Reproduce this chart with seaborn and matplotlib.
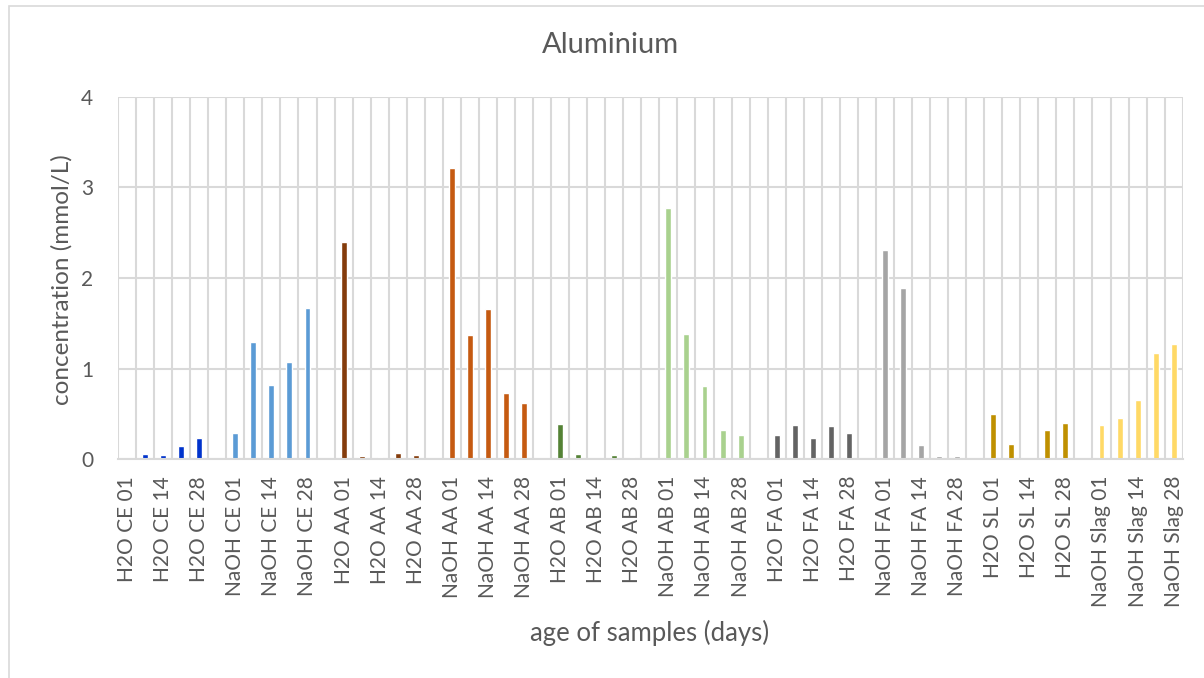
import matplotlib
matplotlib.use("Agg")
import matplotlib.pyplot as plt
from matplotlib.patches import Rectangle
from matplotlib.ticker import FixedLocator, NullFormatter
import numpy as np
import pandas as pd
import seaborn as sns

# Sample groups (binder / solution) and sampling ages in days
groups = ["H2O CE", "NaOH CE", "H2O AA", "NaOH AA", "H2O AB",
          "NaOH AB", "H2O FA", "NaOH FA", "H2O SL", "NaOH Slag"]
ages = ["01", "07", "14", "21", "28"]

# Aluminium concentration (mmol/L), one list per group, in age order
h2o_ce = [0.015, 0.059, 0.048, 0.147, 0.235]
naoh_ce = [0.29, 1.297, 0.823, 1.077, 1.665]
h2o_aa = [2.397, 0.036, 0.025, 0.069, 0.048]
naoh_aa = [3.213, 1.37, 1.658, 0.731, 0.621]
h2o_ab = [0.39, 0.059, 0.015, 0.048, 0.026]
naoh_ab = [2.772, 1.381, 0.809, 0.323, 0.268]
h2o_fa = [0.268, 0.379, 0.235, 0.368, 0.29]
naoh_fa = [2.31, 1.89, 0.158, 0.036, 0.036]
h2o_sl = [0.5, 0.17, 0.005, 0.323, 0.40]
naoh_slag = [0.379, 0.456, 0.654, 1.17, 1.27]

values = [h2o_ce, naoh_ce, h2o_aa, naoh_aa, h2o_ab,
          naoh_ab, h2o_fa, naoh_fa, h2o_sl, naoh_slag]

colors = ["#0033CC", "#5B9BD5", "#843C0C", "#C55A11", "#548235",
          "#A9D18E", "#636363", "#A5A5A5", "#BF9000", "#FFD966"]

# Long-form table
rows = []
for g, vals in zip(groups, values):
    for a, v in zip(ages, vals):
        rows.append({"sample": f"{g} {a}", "group": g, "conc": v})
df = pd.DataFrame(rows)

# Category order with one empty slot between groups
order = []
for i, g in enumerate(groups):
    order += [f"{g} {a}" for a in ages]
    if i < len(groups) - 1:
        order.append(" " * (i + 1))

text_color = "#595959"
grid_color = "#D9D9D9"

sns.set_theme(style="white")
plt.rcParams["font.family"] = ["Lato", "DejaVu Sans"]

fig = plt.figure(figsize=(12.04, 6.78), dpi=100)
ax = fig.add_axes([118 / 1204, 1 - 459.3 / 678, (1182.7 - 118) / 1204, (459.3 - 96.7) / 678])

sns.barplot(data=df, x="sample", y="conc", hue="group", order=order,
            hue_order=groups, palette=dict(zip(groups, colors)),
            dodge=False, width=0.33, saturation=1, legend=False, ax=ax)

n = len(order)
ax.set_xlim(-0.5, n - 0.5)
ax.set_ylim(0, 4)
ax.set_yticks([0, 1, 2, 3, 4])

# Gridlines: horizontal at major y ticks, vertical at category boundaries
ax.xaxis.set_minor_locator(FixedLocator(np.arange(-0.5, n, 1.0)))
ax.xaxis.set_minor_formatter(NullFormatter())
ax.grid(False)
ax.grid(True, axis="y", which="major", color=grid_color, linewidth=1.5)
ax.grid(True, axis="x", which="minor", color=grid_color, linewidth=1.5)
ax.set_axisbelow(True)

ax.set_xticks(range(n))
ax.set_xticklabels([lab if i % 2 == 0 else "" for i, lab in enumerate(order)],
                   rotation=90, fontsize=15, color=text_color)
ax.tick_params(axis="x", which="both", length=0, pad=12)
ax.tick_params(axis="y", length=0, pad=18, labelsize=15, labelcolor=text_color)

for s in ["top", "right", "left"]:
    ax.spines[s].set_visible(False)
ax.spines["bottom"].set_color(grid_color)
ax.spines["bottom"].set_linewidth(1.5)

ax.set_xlabel("")
ax.set_ylabel("")
fig.text(62 / 1204, 1 - 280 / 678, "concentration (mmol/L)", rotation=90,
         ha="center", va="center", fontsize=17.5, color=text_color)
fig.text(650 / 1204, 1 - 633 / 678, "age of samples (days)",
         ha="center", va="center", fontsize=18.5, color=text_color)
fig.text(610 / 1204, 1 - 45 / 678, "Aluminium",
         ha="center", va="center", fontsize=21, color=text_color)

# Chart-area frame
fig.patches.append(Rectangle((8.5 / 1204, -0.1), 1.2, 1 - 5.5 / 678 + 0.1,
                             transform=fig.transFigure, fill=False,
                             edgecolor=grid_color, linewidth=1.2))

fig.savefig("out.png", dpi=100)
